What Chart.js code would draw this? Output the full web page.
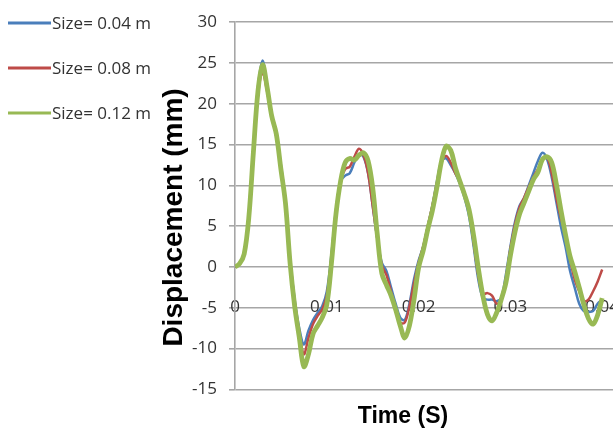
<!DOCTYPE html>
<html>
<head>
<meta charset="utf-8">
<script src="https://cdn.jsdelivr.net/npm/chart.js@4.4.1/dist/chart.umd.min.js"></script>
<style>
  html, body { margin: 0; padding: 0; background: #fff; overflow: hidden; }
  /* the original figure is cropped on the right, so the canvas runs past the window */
  #wrap { position: relative; width: 649px; height: 437px; }
</style>
</head>
<body>
<div id="wrap"><canvas id="chart"></canvas></div>
<script>
// Time (s), sampled every 0.5 ms
const time = [
    0, 0.0005, 0.001, 0.0015, 0.002, 0.0025, 0.003, 0.0035, 0.004, 0.0045,
    0.005, 0.0055, 0.006, 0.0065, 0.007, 0.0075, 0.008, 0.0085, 0.009, 0.0095,
    0.01, 0.0105, 0.011, 0.0115, 0.012, 0.0125, 0.013, 0.0135, 0.014, 0.0145,
    0.015, 0.0155, 0.016, 0.0165, 0.017, 0.0175, 0.018, 0.0185, 0.019, 0.0195,
    0.02, 0.0205, 0.021, 0.0215, 0.022, 0.0225, 0.023, 0.0235, 0.024, 0.0245,
    0.025, 0.0255, 0.026, 0.0265, 0.027, 0.0275, 0.028, 0.0285, 0.029, 0.0295,
    0.03, 0.0305, 0.031, 0.0315, 0.032, 0.0325, 0.033, 0.0335, 0.034, 0.0345,
    0.035, 0.0355, 0.036, 0.0365, 0.037, 0.0375, 0.038, 0.0385, 0.039, 0.0395,
    0.04,
];

// Displacement (mm) per mesh size
const size004 = [
    0, 0.4, 1.7, 6.5, 14.5, 22, 25.3, 22, 18.5, 16,
    12.5, 8, 1, -4, -7.5, -9.5, -7.8, -6.5, -5.6, -4.8,
    -3, 1.5, 7, 10.5, 11.2, 11.5, 12.8, 13.8, 13.5, 11.5,
    7.5, 3.5, 0.5, -0.5, -2.5, -4.5, -6.2, -6.5, -4.5, -1.5,
    0.8, 2.5, 5, 7.5, 10.5, 13, 13.3, 12.5, 11.5, 10.2,
    8.5, 6.2, 2.5, -1.5, -3.8, -4, -4, -4.2, -3.8, -1,
    2.5, 5.5, 7.5, 8.5, 10, 11.5, 13, 14, 13.2, 11,
    8, 5, 2.5, -0.5, -2.5, -4.5, -5.4, -5.5, -5.4, -4.5,
    -4,
];
const size008 = [
    0, 0.4, 1.7, 6.3, 14, 21, 23.8, 21.5, 18.5, 16,
    12.3, 8, 0.8, -4.3, -8, -10.7, -8.7, -7, -6, -5.2,
    -3.5, 1, 6.8, 10.5, 12, 12.3, 13.5, 14.5, 13.7, 11.5,
    7.5, 3.5, 0.2, -1, -3, -5, -6.8, -6.8, -4.8, -2,
    0.5, 2.5, 5, 7.5, 10.3, 12.8, 13.6, 12.8, 11.5, 10.5,
    9, 6.8, 3, -1, -3.3, -3.2, -3.5, -4.5, -4, -1.5,
    2.2, 5.2, 7.3, 8.5, 9.8, 11, 12, 13.2, 13.4, 11.5,
    8.5, 6, 4, 1, -1.5, -3, -4.2, -4, -3, -1.8,
    -0.3,
];
const size012 = [
    0, 0.4, 1.6, 6, 14, 21.5, 24.8, 22, 18.5, 16.3,
    12, 7.8, 0.5, -4.8, -8.6, -12.2, -10.7, -8.2, -7.2, -6.2,
    -4.6, 0.4, 6.5, 10.5, 12.8, 13.3, 13.1, 13.7, 14, 13,
    9.7, 4, -0.8, -2.2, -3.5, -5.2, -7.2, -8.7, -7.2, -4,
    -0.1, 2, 4.6, 6.9, 9.8, 13, 14.8, 14.3, 12.2, 10.5,
    8.9, 7, 3.8, -0.1, -3.5, -5.8, -6.6, -5.6, -4, -2,
    1.4, 4.3, 6.5, 7.9, 9.3, 10.7, 11.6, 13.2, 13.5, 12.8,
    10.2, 7, 4, 1.3, -0.5, -2.5, -4.6, -6.3, -7, -5.9,
    -3.8,
];

const seriesNames = ['Size= 0.04 m', 'Size= 0.08 m', 'Size= 0.12 m'];
const yTicks = [-15, -10, -5, 0, 5, 10, 15, 20, 25, 30];

const blue = '#4a7ebb';
const red = '#be4b48';
const green = '#98b954';
const gridCol = '#a6a6a6';
const tickFont = { family: '"Open Sans", sans-serif', size: 17 };
const yTitleFont = { family: '"Liberation Sans", Arial, sans-serif', size: 28, weight: 'bold' };
const xTitleFont = { family: '"Liberation Sans", Arial, sans-serif', size: 23, weight: 'bold' };

const pts = (vals) => vals.map((v, i) => ({ x: time[i], y: v }));

function lineSet(label, vals, color, width, order) {
    return {
        label,
        data: pts(vals),
        borderColor: color,
        backgroundColor: color,
        borderWidth: width,
        pointRadius: 0,
        tension: 0.35,
        order,
    };
}

// Legend drawn to the left of the axis, like the Excel original
const sideLegend = {
    id: 'sideLegend',
    afterDraw(chart) {
        const { ctx } = chart;
        ctx.save();
        ctx.font = `${tickFont.size}px ${tickFont.family}`;
        ctx.textBaseline = 'middle';
        ctx.fillStyle = '#333';
        chart.data.datasets.forEach((ds, i) => {
            const y = 23 + i * 45;
            ctx.strokeStyle = ds.borderColor;
            ctx.lineWidth = 3;
            ctx.beginPath();
            ctx.moveTo(8, y);
            ctx.lineTo(51, y);
            ctx.stroke();
            ctx.fillText(ds.label, 52, y + 1);
        });
        ctx.restore();
    },
};

new Chart(document.getElementById('chart'), {
    type: 'line',
    data: {
        datasets: [
            lineSet(seriesNames[0], size004, blue, 2.5, 2),
            lineSet(seriesNames[1], size008, red, 2.5, 1),
            lineSet(seriesNames[2], size012, green, 4.8, 0),
        ],
    },
    options: {
        responsive: true,
        maintainAspectRatio: false,
        animation: false,
        layout: { padding: { left: 157, right: 0, top: 22, bottom: 0 } },
        plugins: {
            legend: { display: false },
            tooltip: { enabled: false },
            title: {
                display: true,
                position: 'bottom',
                text: 'Time (S)',
                color: '#000',
                font: xTitleFont,
                padding: { top: 13, bottom: 7 },
            },
        },
        scales: {
            x: {
                type: 'linear',
                position: { y: 0 },
                min: 0,
                max: 0.0448,
                grid: { display: false, drawTicks: false },
                border: { display: false },
                ticks: {
                    stepSize: 0.01,
                    includeBounds: false,
                    padding: 30,
                    color: '#333',
                    font: tickFont,
                    maxRotation: 0,
                    autoSkip: false,
                    callback: (v) => String(Math.round(v * 100) / 100),
                },
            },
            y: {
                min: yTicks[0],
                max: yTicks[yTicks.length - 1],
                afterBuildTicks: (s) => { s.ticks = yTicks.map((v) => ({ value: v })); },
                afterFit: (s) => { s.width = 78; },
                grid: { color: gridCol, lineWidth: 1.6, tickLength: 6 },
                border: { color: gridCol, width: 1.6 },
                ticks: { color: '#333', font: tickFont, padding: 12 },
                title: {
                    display: true,
                    // trailing spaces nudge the label down a little, as in the original
                    text: 'Displacement (mm)   ',
                    color: '#000',
                    font: yTitleFont,
                    padding: { top: 0, bottom: 0 },
                },
            },
        },
    },
    plugins: [sideLegend],
});
</script>
</body>
</html>
